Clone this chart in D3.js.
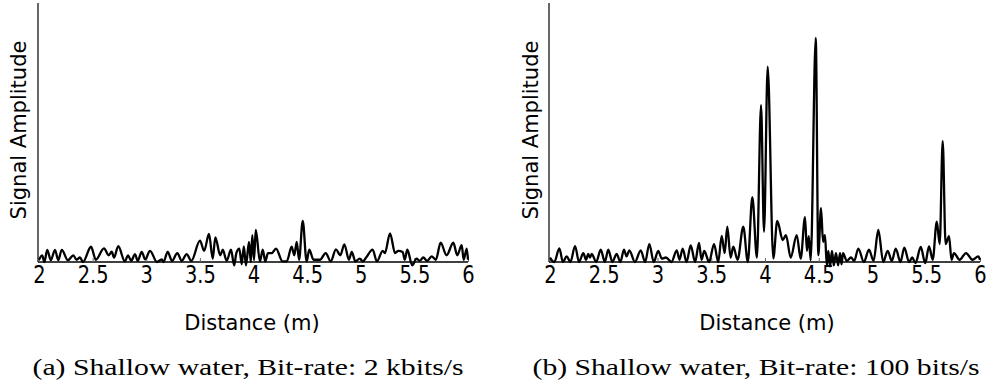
<!DOCTYPE html>
<html>
<head>
<meta charset="utf-8">
<script src="https://cdn.jsdelivr.net/npm/d3@7"></script>
<style>
  html, body { margin: 0; padding: 0; background: #fff; }
  svg { display: block; }
  .tick text { font-family: "DejaVu Sans Condensed", "DejaVu Sans", sans-serif; font-stretch: condensed; }
</style>
</head>
<body>
<svg id="chart" width="992" height="388"></svg>
<script>
// ---- data ----
const xTicks = [2, 2.5, 3, 3.5, 4, 4.5, 5, 5.5, 6];
const xTickLabels = ["2", "2.5", "3", "3.5", "4", "4.5", "5", "5.5", "6"];
const yLabel = "Signal Amplitude";
const xLabel = "Distance (m)";
const captions = ["(a) Shallow water, Bit-rate: 2 kbits/s", "(b) Shallow water, Bit-rate: 100 bits/s"];

// (a) 2 kbits/s  — distance (m) and relative amplitude
const distA = [2.00,2.03,2.05,2.077,2.11,2.149,2.18,2.212,2.27,2.32,2.35,2.382,2.41,2.485,2.53,2.606,2.65,2.678,2.70,2.739,2.80,2.83,2.86,2.895,2.92,2.958,2.99,3.035,3.10,3.144,3.16,3.20,3.24,3.29,3.33,3.377,3.42,3.501,3.54,3.585,3.62,3.644,3.69,3.713,3.75,3.79,3.82,3.84,3.868,3.89,3.91,3.93,3.958,3.975,3.989,4.005,4.021,4.06,4.086,4.11,4.135,4.17,4.21,4.27,4.31,4.356,4.38,4.403,4.425,4.459,4.495,4.52,4.56,4.62,4.673,4.72,4.769,4.81,4.847,4.89,4.916,4.95,4.99,5.02,5.05,5.111,5.15,5.205,5.225,5.273,5.32,5.35,5.391,5.41,5.434,5.48,5.52,5.55,5.583,5.62,5.661,5.70,5.745,5.80,5.863,5.90,5.941,5.96,5.988,6.0];
const ampA  = [0.01,0.03,0.0,0.054,0.008,0.054,0.008,0.054,0.008,0.03,0.01,0.02,0.0,0.068,0.01,0.061,0.03,0.046,0.02,0.071,0.003,0.03,0.005,0.035,0.005,0.045,0.012,0.05,0.0,0.012,0.0,0.045,0.005,0.04,0.005,0.035,0.005,0.095,0.05,0.125,0.015,0.11,0.03,0.055,0.005,0.055,-0.015,0.04,0.06,-0.01,0.07,-0.015,0.09,0.0,0.12,0.01,0.143,0.003,0.055,0.003,0.04,0.04,0.06,0.003,0.003,0.068,0.03,0.09,0.01,0.184,0.003,0.055,0.01,0.01,0.04,0.003,0.056,0.03,0.079,0.01,0.045,0.003,0.015,0.003,0.02,0.055,0.003,0.05,0.04,0.128,0.04,0.05,0.045,0.01,0.055,-0.015,0.015,0.005,0.02,0.005,0.025,0.01,0.086,0.03,0.086,0.03,0.075,0.01,0.06,0.01];

// (b) 100 bits/s
const distB = [2.00,2.04,2.087,2.12,2.155,2.19,2.233,2.27,2.310,2.335,2.356,2.372,2.388,2.43,2.472,2.51,2.542,2.58,2.620,2.655,2.688,2.712,2.738,2.79,2.844,2.885,2.924,2.965,3.007,3.04,3.079,3.13,3.179,3.205,3.234,3.27,3.309,3.35,3.386,3.41,3.435,3.48,3.526,3.565,3.597,3.625,3.649,3.68,3.705,3.745,3.798,3.84,3.882,3.925,3.963,3.991,4.025,4.077,4.114,4.165,4.195,4.239,4.295,4.332,4.372,4.39,4.407,4.425,4.472,4.496,4.521,4.54,4.558,4.575,4.589,4.605,4.623,4.64,4.660,4.68,4.698,4.712,4.726,4.76,4.800,4.83,4.868,4.92,4.967,5.01,5.054,5.10,5.141,5.18,5.216,5.26,5.296,5.34,5.37,5.40,5.449,5.49,5.526,5.56,5.598,5.625,5.653,5.68,5.712,5.735,5.758,5.81,5.870,5.93,5.984,6.0];
const ampB  = [0.02,0.0,0.061,0.0,0.025,0.0,0.071,0.0,0.04,0.01,0.036,0.02,0.036,0.0,0.055,0.0,0.055,0.0,0.036,0.0,0.055,0.025,0.052,0.0,0.052,0.0,0.08,0.0,0.05,0.015,0.02,0.0,0.052,0.01,0.06,0.0,0.074,0.0,0.085,0.01,0.05,0.0,0.08,0.0,0.116,0.04,0.158,0.02,0.068,0.01,0.158,0.0,0.289,0.02,0.70,0.135,0.872,0.016,0.183,0.098,0.12,0.02,0.12,0.015,0.2,0.05,0.115,0.008,1.0,0.03,0.24,0.09,0.12,-0.015,0.05,-0.02,0.05,-0.015,0.04,-0.015,0.04,-0.01,0.04,0.005,0.02,0.005,0.06,0.0,0.055,0.005,0.143,0.0,0.05,0.005,0.06,0.0,0.064,0.0,0.02,-0.005,0.067,-0.005,0.07,0.01,0.18,0.08,0.54,0.08,0.115,0.01,0.04,0.01,0.04,0.01,0.025,0.01];

// ---- drawing ----
const svg = d3.select("#chart");
const panels = [
  { dist: distA, amp: ampA, axisX: 38, x0: 39, x1: 468, caption: captions[0], capX: 248, capW: 431, labX: 26, titleX: 252 },
  { dist: distB, amp: ampB, axisX: 549, x0: 550, x1: 980, caption: captions[1], capX: 756, capW: 447, labX: 538, titleX: 767 }
];
const yTop = 3, yBase = 262;

panels.forEach(p => {
  const x = d3.scaleLinear().domain([2, 6]).range([p.x0, p.x1]);
  const y = d3.scaleLinear().domain([0, 1]).range([yBase, 38]);
  const g = svg.append("g");

  // y axis line (no ticks)
  g.append("line")
    .attr("x1", p.axisX).attr("x2", p.axisX)
    .attr("y1", yTop).attr("y2", yBase)
    .attr("stroke", "#000").attr("stroke-width", 1.2);

  // x axis
  const xAxis = d3.axisBottom(x)
    .tickValues(xTicks)
    .tickFormat((d, i) => xTickLabels[i])
    .tickSizeInner(-4)
    .tickSizeOuter(0)
    .tickPadding(4);
  const ax = g.append("g").attr("transform", `translate(0,${yBase})`).call(xAxis);
  ax.select(".domain").attr("d", `M${p.axisX},0H${p.x1}`).attr("stroke-width", 1.4);
  ax.selectAll(".tick line").attr("stroke", "#666");
  ax.selectAll(".tick text")
    .attr("font-size", 24)
    .attr("fill", "#000")
    .attr("transform", "scale(0.9,1)");

  // signal line
  const line = d3.line()
    .x((d, i) => x(p.dist[i]))
    .y((d, i) => y(p.amp[i]))
    .curve(d3.curveMonotoneX);
  g.append("path")
    .datum(p.dist)
    .attr("d", line)
    .attr("fill", "none")
    .attr("stroke", "#000")
    .attr("stroke-width", 2.3)
    .attr("stroke-linejoin", "round");

  // y label
  g.append("text")
    .attr("transform", `translate(${p.labX},130) rotate(-90)`)
    .attr("text-anchor", "middle")
    .attr("font-family", "DejaVu Sans, sans-serif")
    .attr("font-size", 21)
    .text(yLabel);

  // x label
  g.append("text")
    .attr("x", p.titleX).attr("y", 330)
    .attr("text-anchor", "middle")
    .attr("font-family", "DejaVu Sans, sans-serif")
    .attr("font-size", 21)
    .text(xLabel);

  // caption
  g.append("text")
    .attr("x", p.capX - p.capW / 2).attr("y", 375)
    .attr("font-family", "Liberation Serif, serif")
    .attr("font-size", 23)
    .attr("textLength", p.capW)
    .attr("lengthAdjust", "spacingAndGlyphs")
    .text(p.caption);
});
</script>
</body>
</html>
